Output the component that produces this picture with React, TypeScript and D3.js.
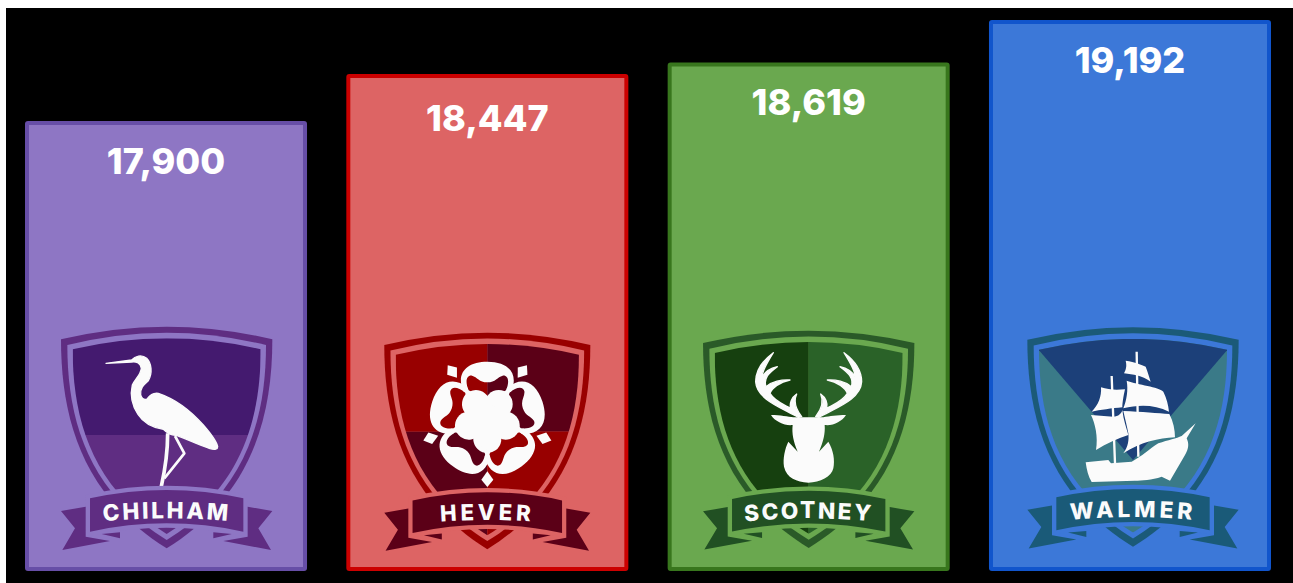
import React from "react";
import * as d3 from "d3";

const houses = ["CHILHAM", "HEVER", "SCOTNEY", "WALMER"];
const values = [17900, 18447, 18619, 19192];
const fills = ["#8e76c4", "#dd6464", "#6aa84f", "#3c78d8"];
const borders = ["#674ea7", "#cc0000", "#38761d", "#1155cc"];
const rings = ["#5f2d82", "#990000", "#2a5a28", "#1b5a78"];
const banners = ["#5f2d82", "#5b0017", "#215023", "#1a5a78"];
const shieldA = ["#441a6f", "#980000", "#16400f", "#3a7a88"];
const shieldB = ["#5f2d82", "#5b0017", "#2a6228", "#1c4079"];

const W = 1293, H = 583;
const x = d3.scaleBand<string>().domain(houses).range([25, 1271]).paddingInner(0.1223);
// Reference tops of the bars and centres of their labels, read per value.
const yTop = d3.scaleLinear().domain(values).range([121, 74, 62.5, 20]);
const yLabel = d3.scaleLinear().domain(values).range([161.5, 118.5, 102.5, 60.5]);
const yBottom = 571;
const fmt = d3.format(",");

const crestCx = [166.67, 487.3, 808.7, 1133];
const crestTop = [50, 68, 62, 52];
const crestSx = [1, 0.975, 1, 1];
const crestSy = [1, 0.977, 0.98, 0.99];
const cropLeft = [0, 340, 660, 985];
const labelSpacing = [7.75, 11.5, 6.8, 11.3];

function shield(hw: number, cy: number, tc: number, tip: number) {
  const p = d3.path();
  const c1 = cy + (tip - cy) * 0.386;
  const c2 = cy + (tip - cy) * 0.752;
  const k = hw * 0.79;
  p.moveTo(-hw, cy);
  p.quadraticCurveTo(0, 2 * tc - cy, hw, cy);
  p.bezierCurveTo(hw, c1, k, c2, 0, tip);
  p.bezierCurveTo(-k, c2, -hw, c1, -hw, cy);
  p.closePath();
  return p.toString();
}

const bannerBody = "M-230,565 Q0,515 230,565 L230,665 Q0,615 -230,665 Z";
const tailLeft = "M-317,603 L-243,590 L-243,680 L-170,693 L-313,720 L-275,655 Z";
const foldLeft = "M-195,672 L-140,667 L-140,685 Z";
const textArc = "M-230,638 Q0,612 230,638";

const petal = "M-72,-85 C-95,-140 -62,-174 0,-174 C62,-174 95,-140 72,-85 L0,-50 Z M-56,-88 C-68,-115 -62,-134 -46,-132 C-30,-128 -25,-112 0,-112 C25,-112 30,-128 46,-132 C62,-134 68,-115 56,-88 L0,-55 Z";
const sepal = "M0,-202 L18,-180 L0,-155 L-18,-180 Z";

const Egret = () => (
  <g fill="#fbfbfb" stroke="#fbfbfb" strokeWidth="4" strokeLinejoin="round">
    <path d="M318,160 L395,150 C405,138 425,132 440,145 C455,160 458,190 445,212 C430,225 420,235 422,255 C425,265 432,270 440,268 C450,255 460,247 475,250 C520,265 570,300 610,345 C630,368 650,395 653,410 C653,418 645,420 630,416 C600,406 565,390 530,376 C510,378 495,363 490,358 C460,353 430,338 414,313 C397,288 390,255 397,225 C407,205 422,195 424,175 C422,160 410,154 395,156 Z" />
    <path d="M503,370 C503,420 495,480 484,529" fill="none" strokeWidth="11" />
    <path d="M525,378 L553,430 L493,505" fill="none" strokeWidth="8" />
  </g>
);

const Rose = () => (
  <g transform="translate(442,329)" fill="#fbfbfb">
    {d3.range(5).map((i) => (
      <g key={i} transform={`rotate(${i * 72})`}>
        <path d={petal} fillRule="evenodd" />
        <path d={sepal} transform="rotate(36)" />
        <circle cx={58 * Math.sin((Math.PI / 180) * 36)} cy={-58 * Math.cos((Math.PI / 180) * 36)} r={42} />
      </g>
    ))}
    <circle r={45} />
  </g>
);

const antler = "M415,322 C370,295 290,270 287,215 C287,180 310,150 340,128 C320,160 305,185 307,200 C315,185 330,175 352,170 C325,190 310,205 318,230 C335,215 365,208 390,210 C360,215 335,235 330,250 C345,275 375,285 392,295 C388,280 395,262 410,252 C400,275 405,295 425,320 Z";

const Stag = () => (
  <g fill="#fbfbfb">
    <path d={antler} stroke="#fbfbfb" strokeWidth="4" strokeLinejoin="round" />
    <path d={antler} transform="translate(892,0) scale(-1,1)" stroke="#fbfbfb" strokeWidth="4" strokeLinejoin="round" />
    <path d="M333,315 C360,315 385,320 400,322 L490,322 C510,318 530,315 558,315 C545,335 520,348 494,345 C496,370 490,395 477,425 L505,395 C520,420 525,450 520,475 C515,500 480,518 445,518 C410,515 380,505 372,470 C368,445 375,415 385,395 L413,425 C400,395 395,370 398,345 C375,348 345,335 333,315 Z" />
  </g>
);

const Ship = () => (
  <g fill="#fbfbfb">
    <path d="M380,198 L390,460 M455,125 L460,440" stroke="#fbfbfb" strokeWidth="7" fill="none" />
    <path d="M302,457 L370,450 L378,460 L440,455 C470,440 495,415 520,400 C550,390 575,385 590,378 L632,340 L605,385 C612,400 612,415 600,435 L555,512 L530,500 C500,510 470,512 450,512 L320,516 C310,500 305,480 302,457 Z" />
    <path d="M348,232 C370,240 395,240 420,238 C415,260 412,280 412,292 C380,295 345,300 320,305 C340,285 350,260 348,232 Z" />
    <path d="M318,315 L385,320 C400,320 410,310 412,300 C415,330 425,355 430,375 C400,385 365,400 333,420 C340,380 330,340 318,315 Z" />
    <path d="M425,212 C460,225 520,230 535,245 C545,265 550,285 552,305 C510,283 460,283 415,295 C425,270 430,240 425,212 Z" />
    <path d="M415,303 C470,305 520,310 553,312 C565,335 570,360 570,382 C520,385 470,395 415,430 C430,410 432,390 430,370 C425,345 420,325 415,303 Z" />
    <path d="M422,152 C450,155 470,165 482,170 C488,185 492,200 497,215 C470,195 445,195 417,190 C425,175 425,165 422,152 Z" />
  </g>
);

const icons = [Egret, Rose, Stag, Ship];

function ShieldFill({ i }: { i: number }) {
  const a = shieldA[i], b = shieldB[i];
  if (i === 0)
    return (
      <>
        <rect x={-320} y={40} width={640} height={335} fill={a} />
        <rect x={-320} y={375} width={640} height={340} fill={b} />
      </>
    );
  if (i === 1)
    return (
      <>
        <rect x={-320} y={40} width={320} height={314} fill={a} />
        <rect x={0} y={40} width={320} height={314} fill={b} />
        <rect x={-320} y={354} width={320} height={360} fill={b} />
        <rect x={0} y={354} width={320} height={360} fill={a} />
      </>
    );
  if (i === 2)
    return (
      <>
        <rect x={-320} y={40} width={320} height={680} fill={a} />
        <rect x={0} y={40} width={320} height={680} fill={b} />
      </>
    );
  return (
    <>
      <rect x={-320} y={40} width={640} height={680} fill={a} />
      <path d="M-320,40 L320,40 L283,118 L0,452 L-283,118 Z" fill={b} />
    </>
  );
}

function Crest({ i }: { i: number }) {
  const Icon = icons[i];
  const outer = shield(317, 88, 50, 715);
  const mid = shield(298, 105, 68, 690);
  const inner = shield(282, 118, 85, 672);
  const frame = `translate(${crestCx[i]},${310 + crestTop[i] / 3}) scale(${crestSx[i] / 3},${crestSy[i] / 3}) translate(0,-50)`;
  const id = `clip-${i}`;
  const arc = `arc-${i}`;
  return (
    <g>
      <g transform={frame}>
        <defs>
          <clipPath id={id}><path d={inner} /></clipPath>
          <path id={arc} d={textArc} />
        </defs>
        <path d={outer} fill={rings[i]} />
        <path d={mid} fill={fills[i]} />
        <g clipPath={`url(#${id})`}><ShieldFill i={i} /></g>
      </g>
      <g transform={`translate(${cropLeft[i]},310) scale(${1 / 3})`}>
        <Icon />
      </g>
      <g transform={frame}>
        <path d={bannerBody} fill="none" stroke={fills[i]} strokeWidth={26} />
        <path d={bannerBody} fill={banners[i]} />
        <path d={tailLeft} fill={banners[i]} />
        <path d={tailLeft} fill={banners[i]} transform="scale(-1,1)" />
        <path d={foldLeft} fill={banners[i]} />
        <path d={foldLeft} fill={banners[i]} transform="scale(-1,1)" />
        <text fill="#fbfbfb" fontFamily="Inter, sans-serif" fontWeight={800} fontSize={68} letterSpacing={labelSpacing[i]}>
          <textPath href={`#${arc}`} startOffset="50%" textAnchor="middle">{houses[i]}</textPath>
        </text>
      </g>
    </g>
  );
}

export default function App() {
  return (
    <svg width={W} height={H} viewBox={`0 0 ${W} ${H}`} style={{ position: "fixed", left: 0, top: 0, display: "block" }}>
      <rect width={W} height={H} fill="#ffffff" />
      <rect x={6} y={8} width={W - 6} height={H - 8} fill="#000000" />
      {houses.map((h, i) => {
        const top = yTop(values[i]);
        return (
          <g key={h}>
            <rect
              x={x(h)! + 2}
              y={top + 2}
              width={x.bandwidth() - 4}
              height={yBottom - top - 4}
              rx={1}
              fill={fills[i]}
              stroke={borders[i]}
              strokeWidth={4}
            />
            <text
              x={x(h)! + x.bandwidth() / 2}
              y={yLabel(values[i]) + 12}
              textAnchor="middle"
              fill="#ffffff"
              fontFamily="Inter, sans-serif"
              fontWeight={800}
              fontSize={36}
            >
              {fmt(values[i])}
            </text>
            <Crest i={i} />
          </g>
        );
      })}
    </svg>
  );
}
